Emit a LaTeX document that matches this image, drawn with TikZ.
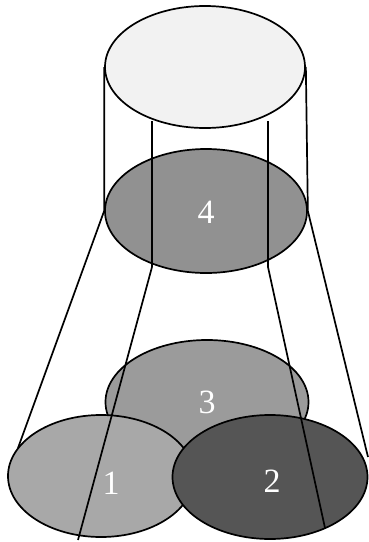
\documentclass[tikz,border=0pt]{standalone}
\usepackage{fontspec}
\setmainfont{Liberation Serif}
\usetikzlibrary{shapes.geometric}
\definecolor{ctop}{RGB}{242,242,242}
\definecolor{cfour}{RGB}{145,145,145}
\definecolor{cthree}{RGB}{155,155,155}
\definecolor{cone}{RGB}{168,168,168}
\definecolor{ctwo}{RGB}{85,85,85}
\begin{document}
\begin{tikzpicture}[x=1pt,y=-1pt,
  ell/.style={ellipse, draw=black, line width=1.7pt, inner sep=0pt},
  num/.style={text=white, font=\fontsize{34}{34}\selectfont, inner sep=0pt},
  rod/.style={line width=1.7pt, line join=round}]
\useasboundingbox (0,0) rectangle (369,542);
\node[ell, fill=ctop, minimum width=200pt, minimum height=122pt] (top) at (205,67) {};
\node[ell, fill=cfour, minimum width=202pt, minimum height=124pt] (e4) at (206,211) {};
\node[ell, fill=cthree, minimum width=203pt, minimum height=124pt] (e3) at (207,402) {};
\node[ell, fill=cone, minimum width=186pt, minimum height=122pt] (e1) at (101,476) {};
\node[ell, fill=ctwo, minimum width=195pt, minimum height=124pt] (e2) at (270,477) {};
\node[num] (n4) at (206,212) {4};
\node[num] (n3) at (207,402) {3};
\node[num] (n1) at (111,483) {1};
\node[num] (n2) at (272,481) {2};
\coordinate (ol) at (18,448);
\coordinate (or) at (368,457);
\coordinate (t1) at (152,121);
\coordinate (k1) at (152,267);
\coordinate (b1) at (78,540);
\coordinate (t2) at (268,121);
\coordinate (k2) at (268,267);
\coordinate (b2) at (325,528);
\draw[rod] (top.west) -- (e4.west) -- (ol);
\draw[rod] (top.east) -- (e4.east) -- (or);
\draw[rod] (t1) -- (k1) -- (b1);
\draw[rod] (t2) -- (k2) -- (b2);
\end{tikzpicture}
\end{document}
